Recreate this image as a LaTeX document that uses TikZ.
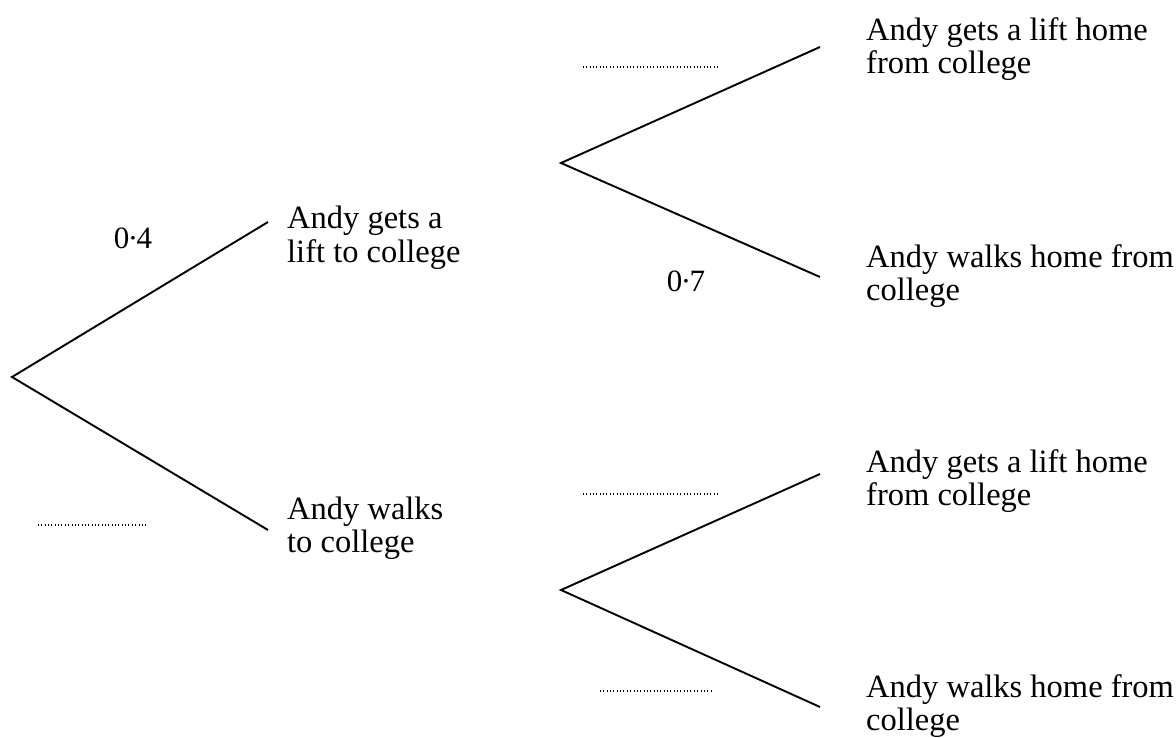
\documentclass[tikz,border=0pt]{standalone}
\usepackage{fontspec}
\setmainfont{Liberation Serif}
\newcommand{\mdot}{\kern-1.5pt·\kern-1.5pt}
\begin{document}
\begin{tikzpicture}[x=1pt,y=-1pt,
  branch/.style={line width=1.9pt},
  blank/.style={line width=1.1pt, dash pattern=on 0.9pt off 2.45pt},
  lbl/.style={anchor=base west, align=left, inner sep=0pt, font=\fontsize{32.5}{33}\selectfont},
  prob/.style={anchor=base, inner sep=0pt, font=\fontsize{31}{33}\selectfont}]
\useasboundingbox (0,0) rectangle (1176,738);
% branch points
\coordinate (r) at (12,377);
\coordinate (a) at (268,222);
\coordinate (b) at (268,530);
\coordinate (ar) at (561,163);
\coordinate (aa) at (820,47);
\coordinate (ab) at (820,277);
\coordinate (br) at (561,590);
\coordinate (ba) at (820,474);
\coordinate (bb) at (820,707);
% branches
\draw[branch] (a) -- (r) -- (b);
\draw[branch] (aa) -- (ar) -- (ab);
\draw[branch] (ba) -- (br) -- (bb);
% labels (anchor = baseline of last line)
\node[lbl] (tA) at (287,262) {Andy gets a\\lift to college};
\node[lbl] (tB) at (287,552) {Andy walks\\to college};
\node[lbl] (tAA) at (866,74) {Andy gets a lift home\\from college};
\node[lbl] (tAB) at (866,301) {Andy walks home from\\college};
\node[lbl] (tBA) at (866,505) {Andy gets a lift home\\from college};
\node[lbl] (tBB) at (866,730) {Andy walks home from\\college};
\node[prob] (p1) at (133,249) {0\mdot4};
\node[prob] (p2) at (686,291) {0\mdot7};
% blanks
\coordinate (d1a) at (38,525); \coordinate (d1b) at (148,525);
\coordinate (d2a) at (583,67); \coordinate (d2b) at (720,67);
\coordinate (d3a) at (583,494); \coordinate (d3b) at (720,494);
\coordinate (d4a) at (600,691); \coordinate (d4b) at (712,691);
\draw[blank] (d1a) -- (d1b);
\draw[blank] (d2a) -- (d2b);
\draw[blank] (d3a) -- (d3b);
\draw[blank] (d4a) -- (d4b);
\end{tikzpicture}
\end{document}
